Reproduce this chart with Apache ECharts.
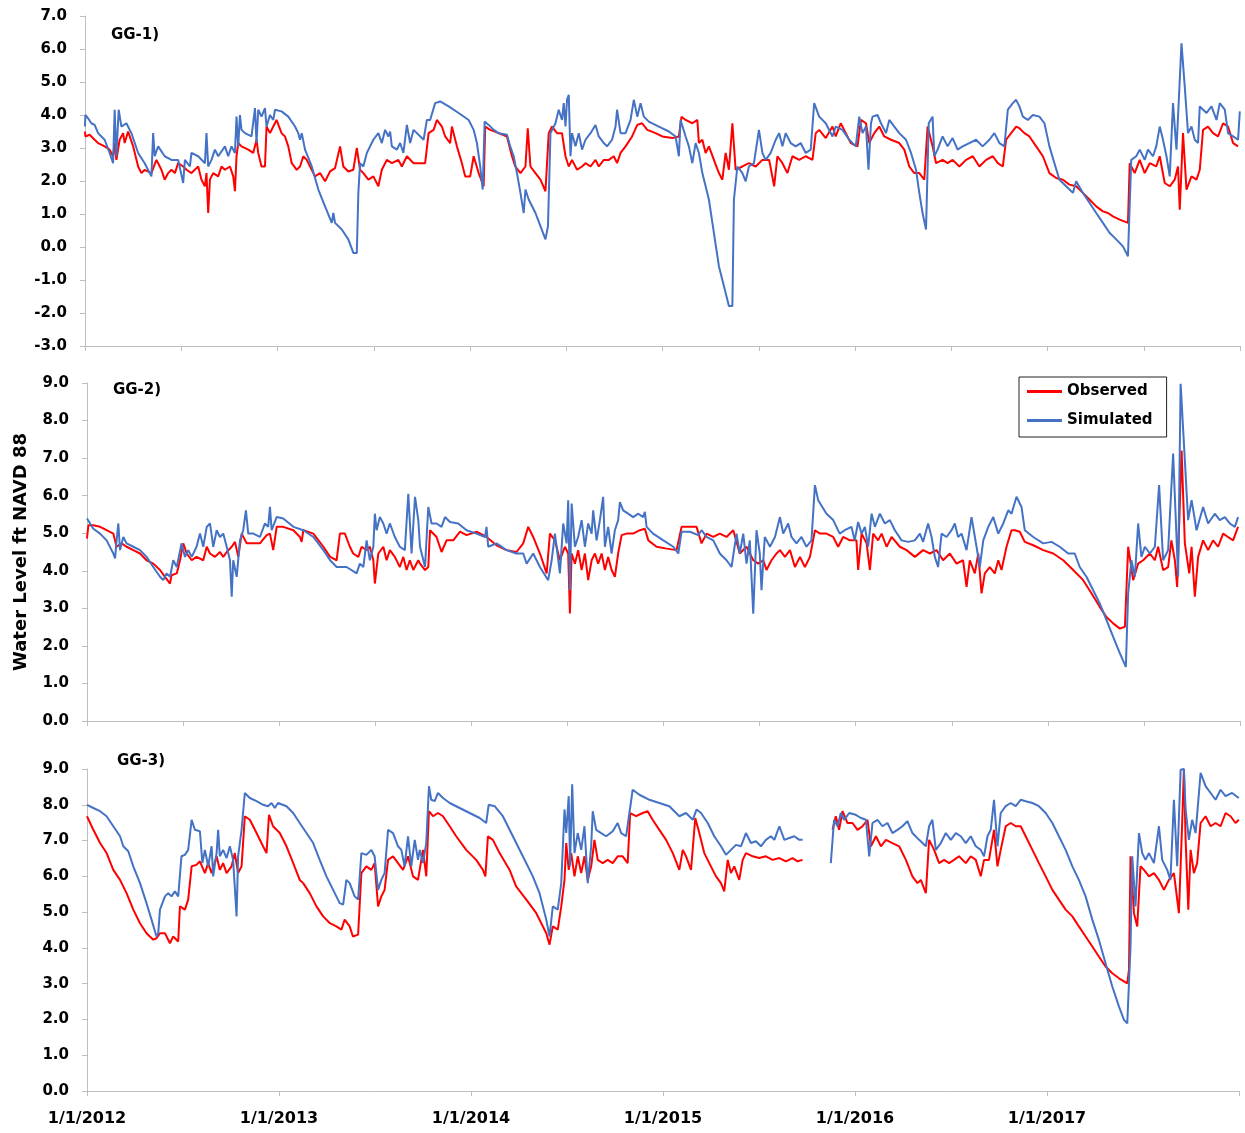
<!DOCTYPE html>
<html>
<head>
<meta charset="utf-8">
<script src="https://cdn.jsdelivr.net/npm/echarts@6/dist/echarts.min.js"></script>
<style>html,body{margin:0;padding:0;background:#fff}#c{width:1245px;height:1133px}</style>
</head>
<body>
<div id="c"></div>
<script>
// x values: years since 1/1/2012; y values: water level ft NAVD 88
const panelLabels = ['GG-1)', 'GG-2)', 'GG-3)'];
const yearTicks = [2012, 2013, 2014, 2015, 2016, 2017];

const gg1Observed = [[0,3.50],[.002,3.35],[.024,3.40],[.050,3.25],[.068,3.15],[.102,3.05],[.128,2.95],[.146,2.75],[.154,3.15],[.163,2.64],[.180,3.25],[.198,3.45],[.206,3.15],[.224,3.50],[.250,3.05],[.276,2.44],[.293,2.24],[.310,2.34],[.345,2.24],[.371,2.64],[.397,2.34],[.414,2.04],[.432,2.24],[.449,2.34],[.467,2.24],[.484,2.54],[.510,2.44],[.527,2.34],[.553,2.24],[.588,2.44],[.605,2.04],[.623,1.84],[.631,2.24],[.640,1.03],[.649,2.04],[.666,2.24],[.692,2.14],[.709,2.44],[.727,2.34],[.753,2.44],[.770,2.14],[.779,1.69],[.787,2.75],[.796,3.15],[.813,3.05],[.848,2.95],[.874,2.85],[.891,3.25],[.900,2.85],[.917,2.44],[.935,2.44],[.943,3.65],[.961,3.45],[.978,3.65],[.995,3.85],[1.021,3.45],[1.039,3.35],[1.056,3.05],[1.074,2.54],[1.100,2.34],[1.117,2.44],[1.134,2.75],[1.152,2.64],[1.169,2.44],[1.195,2.14],[1.221,2.24],[1.247,1.99],[1.273,2.29],[1.299,2.39],[1.325,3.05],[1.342,2.44],[1.368,2.29],[1.394,2.34],[1.412,3.0],[1.429,2.34],[1.446,2.24],[1.472,2.04],[1.498,2.14],[1.524,1.84],[1.542,2.34],[1.568,2.64],[1.594,2.54],[1.628,2.64],[1.646,2.44],[1.672,2.75],[1.707,2.54],[1.767,2.54],[1.785,3.45],[1.811,3.55],[1.828,3.85],[1.854,3.65],[1.871,3.35],[1.897,3.15],[1.906,3.65],[1.932,3.05],[1.958,2.54],[1.975,2.14],[2.001,2.14],[2.019,2.75],[2.045,2.24],[2.071,1.84],[2.079,3.65],[2.105,3.55],[2.149,3.45],[2.192,3.35],[2.218,2.75],[2.235,2.44],[2.262,2.24],[2.288,2.44],[2.300,3.60],[2.314,2.44],[2.340,2.24],[2.366,2.04],[2.392,1.69],[2.409,3.45],[2.426,3.65],[2.452,3.45],[2.478,3.45],[2.496,2.75],[2.513,2.44],[2.530,2.64],[2.556,2.34],[2.582,2.44],[2.600,2.54],[2.626,2.44],[2.652,2.64],[2.669,2.44],[2.695,2.64],[2.721,2.64],[2.747,2.75],[2.764,2.54],[2.782,2.85],[2.808,3.05],[2.842,3.35],[2.869,3.70],[2.894,3.75],[2.921,3.55],[2.964,3.45],[2.999,3.35],[3.051,3.30],[3.085,3.35],[3.099,3.95],[3.120,3.85],[3.155,3.75],[3.181,3.85],[3.189,3.15],[3.207,3.25],[3.224,2.85],[3.241,3.05],[3.267,2.64],[3.293,2.24],[3.311,2.04],[3.328,2.85],[3.345,2.34],[3.363,3.75],[3.380,2.34],[3.415,2.44],[3.449,2.54],[3.484,2.44],[3.519,2.64],[3.554,2.64],[3.580,1.84],[3.597,2.75],[3.623,2.54],[3.649,2.24],[3.675,2.75],[3.710,2.64],[3.744,2.75],[3.779,2.64],[3.796,3.45],[3.814,3.55],[3.848,3.30],[3.883,3.65],[3.900,3.35],[3.926,3.75],[3.952,3.45],[3.978,3.15],[4.013,3.05],[4.031,3.85],[4.057,3.75],[4.074,3.15],[4.100,3.45],[4.126,3.65],[4.152,3.35],[4.187,3.25],[4.230,3.15],[4.256,2.95],[4.282,2.44],[4.308,2.24],[4.334,2.24],[4.360,2.04],[4.377,3.65],[4.403,3.05],[4.421,2.54],[4.455,2.64],[4.481,2.54],[4.507,2.64],[4.542,2.44],[4.577,2.64],[4.612,2.75],[4.646,2.44],[4.681,2.64],[4.716,2.75],[4.742,2.54],[4.768,2.44],[4.785,3.25],[4.811,3.45],[4.837,3.65],[4.854,3.60],[4.880,3.45],[4.906,3.35],[4.941,3.05],[4.976,2.75],[5.010,2.24],[5.045,2.09],[5.080,2.04],[5.114,1.89],[5.149,1.84],[5.184,1.64],[5.218,1.44],[5.253,1.23],[5.288,1.08],[5.314,1.03],[5.340,0.93],[5.375,0.83],[5.418,0.73],[5.427,2.54],[5.453,2.24],[5.479,2.64],[5.505,2.24],[5.531,2.54],[5.565,2.44],[5.583,2.75],[5.609,1.94],[5.635,1.84],[5.661,2.04],[5.678,2.44],[5.687,1.13],[5.704,3.45],[5.722,1.74],[5.748,2.14],[5.774,2.04],[5.791,2.34],[5.808,3.55],[5.834,3.65],[5.860,3.45],[5.886,3.35],[5.912,3.75],[5.938,3.65],[5.964,3.15],[5.990,3.05]];

const gg1Simulated = [[0,3.65],[.002,4.0],[.016,3.90],[.033,3.75],[.050,3.70],[.068,3.45],[.102,3.25],[.128,2.85],[.146,2.54],[.154,4.16],[.163,2.75],[.175,4.16],[.189,3.65],[.215,3.75],[.241,3.45],[.276,2.85],[.310,2.54],[.345,2.14],[.354,3.45],[.362,2.75],[.380,3.05],[.414,2.75],[.449,2.64],[.484,2.64],[.510,1.94],[.519,2.64],[.545,2.44],[.553,2.85],[.588,2.75],[.623,2.54],[.631,3.45],[.640,2.44],[.657,2.64],[.675,2.95],[.692,2.75],[.727,3.05],[.744,2.75],[.761,3.05],[.779,2.85],[.787,3.95],[.796,3.05],[.805,4.0],[.813,3.55],[.831,3.45],[.865,3.35],[.883,4.21],[.891,3.15],[.900,4.16],[.917,3.95],[.935,4.21],[.943,3.65],[.961,4.0],[.978,3.85],[.987,4.16],[1.021,4.11],[1.056,3.95],[1.091,3.65],[1.108,3.45],[1.117,3.25],[1.126,3.45],[1.143,2.95],[1.178,2.44],[1.212,1.74],[1.247,1.23],[1.282,0.73],[1.290,1.03],[1.299,0.73],[1.334,0.53],[1.368,0.23],[1.394,-0.18],[1.412,-0.18],[1.420,1.64],[1.429,2.54],[1.446,2.44],[1.464,2.85],[1.481,3.05],[1.498,3.25],[1.524,3.45],[1.542,3.15],[1.559,3.55],[1.576,3.35],[1.585,3.50],[1.594,3.05],[1.620,2.95],[1.637,3.15],[1.654,2.85],[1.672,3.70],[1.689,3.15],[1.707,3.55],[1.759,3.25],[1.776,3.85],[1.793,3.85],[1.819,4.36],[1.845,4.41],[1.889,4.26],[1.941,4.06],[1.993,3.85],[2.019,3.55],[2.036,3.15],[2.053,2.44],[2.066,1.74],[2.076,3.80],[2.097,3.70],[2.123,3.55],[2.149,3.45],[2.192,3.40],[2.209,3.05],[2.227,2.75],[2.244,2.24],[2.262,1.64],[2.279,1.03],[2.288,1.74],[2.305,1.44],[2.340,1.03],[2.366,0.63],[2.392,0.23],[2.405,0.63],[2.418,3.45],[2.444,3.75],[2.461,4.16],[2.478,3.85],[2.487,4.36],[2.496,3.65],[2.504,4.46],[2.513,4.61],[2.522,2.75],[2.530,3.45],[2.548,3.05],[2.565,3.45],[2.582,2.95],[2.600,3.25],[2.626,3.45],[2.652,3.70],[2.669,3.35],[2.695,3.15],[2.712,3.05],[2.738,3.25],[2.756,3.65],[2.764,4.16],[2.782,3.45],[2.808,3.45],[2.834,3.85],[2.851,4.46],[2.869,3.95],[2.886,4.36],[2.903,3.95],[2.929,3.80],[2.981,3.65],[3.033,3.50],[3.068,3.35],[3.085,2.75],[3.094,3.85],[3.120,3.35],[3.137,3.05],[3.155,2.54],[3.172,3.15],[3.189,2.85],[3.207,2.24],[3.224,1.84],[3.241,1.44],[3.267,0.43],[3.293,-0.58],[3.319,-1.18],[3.345,-1.79],[3.363,-1.79],[3.371,1.44],[3.389,2.44],[3.415,2.24],[3.432,1.99],[3.449,2.44],[3.475,2.54],[3.501,3.55],[3.519,2.85],[3.536,2.64],[3.562,2.85],[3.588,3.25],[3.606,3.45],[3.623,3.05],[3.640,3.45],[3.666,3.15],[3.692,3.05],[3.718,3.15],[3.744,2.85],[3.770,2.95],[3.788,4.36],[3.814,3.95],[3.848,3.75],[3.883,3.35],[3.900,3.65],[3.935,3.55],[3.970,3.25],[4.004,3.05],[4.022,3.95],[4.039,3.45],[4.057,3.65],[4.070,2.34],[4.083,3.75],[4.091,3.95],[4.117,4.0],[4.135,3.75],[4.161,3.45],[4.178,3.85],[4.204,3.65],[4.230,3.45],[4.265,3.25],[4.291,2.85],[4.317,2.34],[4.334,1.64],[4.351,1.03],[4.369,0.53],[4.377,0.53],[4.383,3.75],[4.403,3.95],[4.412,2.75],[4.429,2.95],[4.455,3.35],[4.481,3.05],[4.507,3.30],[4.533,2.95],[4.559,3.05],[4.594,3.15],[4.629,3.25],[4.663,3.05],[4.698,3.25],[4.724,3.45],[4.750,3.15],[4.776,3.05],[4.794,4.16],[4.820,4.36],[4.837,4.46],[4.854,4.26],[4.872,3.95],[4.898,3.85],[4.924,4.0],[4.958,3.95],[4.984,3.75],[5.010,3.05],[5.036,2.54],[5.062,2.04],[5.097,1.84],[5.132,1.64],[5.149,1.99],[5.184,1.64],[5.218,1.34],[5.253,1.03],[5.288,0.73],[5.322,0.43],[5.357,0.23],[5.392,0.02],[5.418,-0.28],[5.427,-0.28],[5.435,2.64],[5.461,2.75],[5.479,2.95],[5.505,2.64],[5.522,2.95],[5.548,2.75],[5.565,3.05],[5.583,3.65],[5.600,3.25],[5.618,2.75],[5.635,2.14],[5.652,4.36],[5.670,2.95],[5.696,6.17],[5.713,4.86],[5.730,3.45],[5.748,3.65],[5.765,3.25],[5.782,3.15],[5.791,4.26],[5.826,4.06],[5.852,4.26],[5.878,3.85],[5.895,4.36],[5.921,4.16],[5.938,3.45],[5.964,3.35],[5.990,3.25],[5.999,4.11]];

const gg2Observed = [[0,4.86],[.007,5.21],[.033,5.21],[.068,5.17],[.102,5.08],[.137,4.99],[.154,4.64],[.180,4.73],[.206,4.64],[.241,4.55],[.276,4.46],[.310,4.28],[.345,4.19],[.380,4.02],[.406,3.84],[.432,3.66],[.440,3.88],[.467,3.93],[.484,4.28],[.501,4.73],[.519,4.46],[.545,4.28],[.570,4.37],[.605,4.28],[.623,4.64],[.640,4.46],[.666,4.37],[.692,4.50],[.709,4.37],[.727,4.50],[.753,4.64],[.770,4.77],[.787,4.37],[.805,4.99],[.831,4.73],[.865,4.73],[.900,4.73],[.935,4.95],[.952,4.99],[.969,4.55],[.987,5.17],[1.021,5.17],[1.074,5.08],[1.108,4.90],[1.117,4.77],[1.126,5.08],[1.178,4.99],[1.230,4.64],[1.265,4.37],[1.299,4.28],[1.316,4.99],[1.342,4.99],[1.368,4.64],[1.385,4.46],[1.412,4.37],[1.429,4.64],[1.455,4.55],[1.472,4.64],[1.490,4.28],[1.498,3.66],[1.516,4.46],[1.542,4.64],[1.559,4.28],[1.576,4.55],[1.602,4.37],[1.628,4.10],[1.646,4.37],[1.663,4.02],[1.680,4.28],[1.698,4.02],[1.724,4.28],[1.733,4.19],[1.759,4.02],[1.776,4.10],[1.785,5.08],[1.819,4.90],[1.845,4.50],[1.871,4.81],[1.906,4.81],[1.941,5.04],[1.975,4.95],[2.027,5.04],[2.079,4.90],[2.131,4.68],[2.183,4.55],[2.235,4.50],[2.270,4.73],[2.296,5.17],[2.322,4.90],[2.357,4.46],[2.392,3.93],[2.409,4.99],[2.435,4.81],[2.461,4.28],[2.487,4.64],[2.504,4.46],[2.513,2.86],[2.522,4.46],[2.539,4.19],[2.556,4.55],[2.574,4.02],[2.591,4.46],[2.608,3.75],[2.626,4.28],[2.643,4.46],[2.660,4.19],[2.678,4.46],[2.695,4.02],[2.712,4.37],[2.730,4.02],[2.747,3.84],[2.764,4.46],[2.782,4.95],[2.808,4.99],[2.842,4.99],[2.877,5.08],[2.903,5.12],[2.921,4.81],[2.964,4.64],[3.016,4.59],[3.068,4.55],[3.094,5.17],[3.137,5.17],[3.172,5.17],[3.198,4.73],[3.224,4.99],[3.259,4.90],[3.293,4.99],[3.328,4.90],[3.363,5.08],[3.397,4.46],[3.432,4.64],[3.467,4.28],[3.493,4.19],[3.519,4.28],[3.536,4.02],[3.562,4.28],[3.588,4.46],[3.606,4.55],[3.632,4.37],[3.658,4.55],[3.684,4.10],[3.710,4.37],[3.736,4.10],[3.762,4.37],[3.788,5.08],[3.814,4.99],[3.848,4.99],[3.883,4.90],[3.909,4.64],[3.935,4.90],[3.970,4.81],[4.004,4.81],[4.013,4.02],[4.031,4.99],[4.057,4.73],[4.074,4.02],[4.091,4.99],[4.117,4.81],[4.135,4.99],[4.161,4.64],[4.187,4.90],[4.230,4.64],[4.265,4.55],[4.308,4.37],[4.351,4.55],[4.386,4.46],[4.421,4.55],[4.455,4.28],[4.490,4.46],[4.525,4.19],[4.559,4.28],[4.577,3.57],[4.594,4.28],[4.620,3.93],[4.638,4.46],[4.655,3.40],[4.672,3.93],[4.698,4.10],[4.724,3.93],[4.742,4.28],[4.759,4.02],[4.785,4.64],[4.811,5.08],[4.828,5.08],[4.854,5.04],[4.880,4.77],[4.924,4.68],[4.976,4.55],[5.028,4.46],[5.080,4.28],[5.132,4.02],[5.184,3.75],[5.227,3.40],[5.270,3.04],[5.305,2.77],[5.340,2.60],[5.375,2.46],[5.401,2.51],[5.418,4.64],[5.444,3.75],[5.470,4.19],[5.496,4.28],[5.531,4.46],[5.557,4.28],[5.574,4.64],[5.600,4.02],[5.626,4.10],[5.643,4.81],[5.661,4.28],[5.673,3.57],[5.696,7.2],[5.713,4.73],[5.736,3.93],[5.748,4.64],[5.765,3.31],[5.782,4.37],[5.808,4.81],[5.834,4.55],[5.860,4.81],[5.886,4.64],[5.912,4.99],[5.938,4.90],[5.964,4.81],[5.990,5.17]];

const gg2Simulated = [[0,5.39],[.007,5.35],[.033,5.12],[.068,4.99],[.102,4.81],[.137,4.46],[.146,4.33],[.154,4.81],[.163,5.26],[.172,4.55],[.189,4.90],[.206,4.73],[.241,4.64],[.276,4.55],[.310,4.37],[.345,4.10],[.380,3.84],[.397,3.75],[.414,3.93],[.432,3.84],[.449,4.28],[.467,4.10],[.492,4.73],[.510,4.37],[.527,4.55],[.545,4.37],[.570,4.64],[.588,4.99],[.605,4.64],[.623,5.17],[.640,5.26],[.657,4.64],[.675,5.08],[.692,4.90],[.709,4.99],[.727,4.64],[.744,4.28],[.753,3.31],[.761,4.28],[.779,3.84],[.796,4.81],[.813,5.08],[.827,5.61],[.839,4.99],[.865,4.99],[.900,4.90],[.926,5.26],[.943,5.17],[.952,5.70],[.961,5.08],[.987,5.43],[1.021,5.39],[1.074,5.17],[1.126,5.08],[1.178,4.90],[1.230,4.55],[1.265,4.28],[1.299,4.10],[1.351,4.10],[1.403,3.93],[1.420,4.19],[1.438,4.10],[1.455,4.81],[1.472,4.28],[1.490,4.64],[1.498,5.52],[1.507,5.08],[1.524,5.43],[1.542,5.26],[1.559,4.99],[1.576,5.26],[1.602,4.90],[1.628,4.64],[1.654,4.55],[1.672,6.05],[1.689,4.46],[1.707,5.97],[1.724,5.35],[1.733,4.64],[1.759,4.10],[1.776,5.70],[1.793,5.26],[1.819,5.26],[1.845,5.17],[1.863,5.43],[1.889,5.30],[1.932,5.26],[1.975,5.08],[2.027,4.99],[2.071,4.90],[2.079,5.17],[2.088,4.64],[2.131,4.73],[2.183,4.55],[2.235,4.46],[2.270,4.46],[2.288,4.19],[2.322,4.46],[2.357,4.10],[2.400,3.75],[2.418,4.28],[2.435,4.99],[2.461,3.93],[2.478,5.26],[2.496,4.73],[2.504,5.88],[2.513,3.48],[2.522,5.79],[2.539,4.64],[2.556,4.90],[2.574,5.35],[2.591,4.64],[2.608,5.26],[2.626,4.99],[2.634,5.61],[2.652,4.81],[2.669,5.35],[2.686,5.97],[2.695,4.64],[2.712,5.17],[2.730,4.46],[2.747,5.08],[2.764,5.35],[2.773,5.83],[2.790,5.61],[2.816,5.52],[2.842,5.43],[2.869,5.52],[2.894,5.43],[2.903,5.57],[2.912,5.17],[2.946,4.99],[2.999,4.81],[3.051,4.64],[3.077,4.46],[3.094,5.04],[3.137,5.04],[3.181,4.95],[3.198,5.08],[3.224,4.90],[3.259,4.81],[3.293,4.46],[3.328,4.28],[3.354,4.10],[3.380,4.99],[3.397,4.46],[3.415,4.99],[3.432,4.19],[3.449,4.81],[3.467,2.86],[3.484,5.08],[3.501,4.46],[3.510,3.48],[3.527,4.90],[3.554,4.64],[3.580,4.90],[3.606,5.43],[3.623,4.99],[3.649,5.26],[3.666,4.90],[3.692,4.73],[3.718,4.90],[3.744,4.64],[3.770,4.81],[3.788,6.28],[3.805,5.88],[3.848,5.52],[3.883,5.35],[3.917,4.99],[3.943,5.08],[3.978,5.17],[3.995,4.81],[4.013,5.30],[4.031,4.99],[4.048,5.17],[4.065,4.64],[4.083,5.52],[4.100,5.17],[4.126,5.52],[4.152,5.26],[4.178,5.35],[4.204,5.08],[4.239,4.81],[4.273,4.77],[4.308,4.81],[4.334,4.99],[4.351,4.77],[4.377,5.26],[4.395,4.90],[4.412,4.37],[4.429,4.10],[4.447,4.99],[4.473,4.90],[4.499,5.08],[4.516,5.26],[4.533,4.90],[4.551,4.99],[4.577,4.55],[4.603,5.43],[4.629,4.64],[4.646,4.10],[4.664,4.81],[4.690,5.17],[4.716,5.43],[4.742,4.99],[4.768,5.26],[4.794,5.61],[4.811,5.52],[4.837,5.97],[4.863,5.70],[4.880,5.08],[4.924,4.90],[4.976,4.73],[5.019,4.77],[5.062,4.64],[5.106,4.46],[5.140,4.46],[5.166,4.10],[5.201,3.84],[5.236,3.48],[5.270,3.13],[5.305,2.69],[5.340,2.24],[5.375,1.80],[5.406,1.44],[5.418,3.40],[5.435,4.28],[5.453,3.84],[5.470,5.26],[5.487,4.37],[5.505,4.64],[5.531,4.46],[5.557,4.64],[5.579,6.28],[5.600,4.28],[5.626,4.55],[5.652,7.12],[5.678,3.84],[5.691,8.98],[5.713,6.94],[5.730,5.35],[5.748,5.88],[5.774,5.08],[5.808,5.70],[5.834,5.26],[5.869,5.52],[5.895,5.35],[5.921,5.43],[5.947,5.26],[5.973,5.17],[5.990,5.43]];

// GG-3 has a data gap in autumn 2015: two segments per series
const gg3ObservedA = [[0,7.68],[.033,7.30],[.068,6.93],[.102,6.65],[.137,6.18],[.172,5.90],[.206,5.53],[.241,5.07],[.276,4.69],[.310,4.41],[.345,4.23],[.362,4.27],[.380,4.41],[.406,4.41],[.432,4.13],[.449,4.32],[.475,4.18],[.484,5.16],[.510,5.07],[.527,5.35],[.545,6.28],[.570,6.32],[.588,6.42],[.614,6.09],[.631,6.37],[.649,6.09],[.675,6.56],[.692,6.18],[.709,6.37],[.727,6.09],[.753,6.28],[.770,6.65],[.787,6.09],[.805,6.28],[.822,7.68],[.848,7.58],[.883,7.21],[.917,6.84],[.935,6.65],[.948,7.72],[.969,7.40],[1.004,7.21],[1.039,6.84],[1.074,6.37],[1.108,5.90],[1.126,5.81],[1.160,5.53],[1.195,5.16],[1.230,4.88],[1.265,4.69],[1.299,4.60],[1.325,4.51],[1.342,4.79],[1.368,4.60],[1.385,4.32],[1.412,4.37],[1.429,6.09],[1.455,6.28],[1.481,6.18],[1.498,6.37],[1.516,5.16],[1.533,5.44],[1.550,5.62],[1.568,6.46],[1.594,6.56],[1.620,6.37],[1.646,6.18],[1.672,6.56],[1.698,6.00],[1.724,5.90],[1.733,5.90],[1.750,6.74],[1.767,6.00],[1.781,7.82],[1.802,7.68],[1.828,7.77],[1.854,7.68],[1.889,7.40],[1.923,7.12],[1.975,6.74],[2.027,6.46],[2.062,6.18],[2.075,6.00],[2.088,7.12],[2.114,7.02],[2.149,6.65],[2.201,6.18],[2.235,5.72],[2.288,5.35],[2.340,4.97],[2.392,4.41],[2.409,4.09],[2.426,4.60],[2.452,4.51],[2.470,5.16],[2.487,5.90],[2.496,6.93],[2.509,6.18],[2.522,6.65],[2.539,6.00],[2.556,6.56],[2.574,6.09],[2.591,6.56],[2.608,5.90],[2.626,6.28],[2.643,7.02],[2.660,6.46],[2.686,6.37],[2.712,6.46],[2.738,6.37],[2.764,6.56],[2.790,6.56],[2.816,6.37],[2.829,7.77],[2.860,7.68],[2.894,7.77],[2.920,7.82],[2.946,7.58],[2.981,7.30],[3.016,7.02],[3.051,6.65],[3.085,6.18],[3.103,6.74],[3.120,6.56],[3.146,6.18],[3.168,7.63],[3.189,7.21],[3.215,6.65],[3.241,6.37],[3.276,6.00],[3.302,5.81],[3.319,5.58],[3.337,6.46],[3.354,6.09],[3.371,6.28],[3.397,5.90],[3.415,6.46],[3.432,6.65],[3.467,6.56],[3.501,6.51],[3.536,6.56],[3.571,6.46],[3.606,6.51],[3.640,6.42],[3.675,6.51],[3.701,6.42],[3.727,6.46]];
const gg3ObservedB = [[3.883,7.30],[3.900,7.68],[3.917,7.30],[3.935,7.82],[3.961,7.49],[3.987,7.49],[4.013,7.30],[4.039,7.40],[4.065,7.58],[4.083,6.84],[4.109,7.12],[4.135,6.84],[4.161,7.02],[4.195,6.93],[4.230,6.84],[4.265,6.46],[4.299,6.00],[4.325,5.81],[4.343,5.90],[4.369,5.53],[4.386,7.02],[4.412,6.74],[4.438,6.37],[4.464,6.46],[4.490,6.37],[4.516,6.46],[4.542,6.56],[4.577,6.37],[4.603,6.56],[4.629,6.46],[4.655,6.00],[4.672,6.46],[4.698,6.46],[4.724,7.30],[4.742,6.28],[4.759,6.74],[4.785,7.40],[4.811,7.49],[4.837,7.40],[4.863,7.40],[4.889,7.12],[4.924,6.74],[4.958,6.37],[4.993,6.00],[5.028,5.62],[5.062,5.35],[5.097,5.07],[5.132,4.88],[5.149,4.74],[5.166,4.60],[5.201,4.32],[5.236,4.04],[5.270,3.76],[5.305,3.48],[5.340,3.29],[5.375,3.15],[5.418,3.01],[5.427,3.39],[5.435,6.56],[5.453,4.97],[5.470,4.60],[5.487,6.28],[5.505,6.18],[5.531,6.00],[5.557,6.09],[5.583,5.90],[5.609,5.62],[5.635,5.90],[5.661,6.09],[5.687,4.97],[5.704,7.49],[5.713,9.0],[5.722,7.02],[5.736,5.07],[5.748,6.74],[5.765,6.09],[5.782,6.37],[5.800,7.49],[5.826,7.68],[5.852,7.40],[5.878,7.49],[5.904,7.40],[5.930,7.77],[5.956,7.68],[5.982,7.49],[5.999,7.58]];

const gg3SimulatedA = [[0,8.00],[.033,7.91],[.068,7.82],[.102,7.68],[.137,7.40],[.172,7.12],[.189,6.84],[.215,6.70],[.241,6.28],[.276,5.81],[.310,5.25],[.336,4.79],[.362,4.32],[.371,4.41],[.380,5.07],[.406,5.44],[.423,5.53],[.440,5.44],[.458,5.58],[.475,5.44],[.492,6.56],[.510,6.60],[.527,6.74],[.545,7.58],[.562,7.30],[.588,7.26],[.601,6.37],[.614,6.74],[.631,6.28],[.649,6.84],[.657,6.00],[.675,6.65],[.683,7.30],[.692,6.56],[.709,6.74],[.727,6.51],[.744,6.84],[.761,6.46],[.779,4.88],[.787,6.56],[.805,7.30],[.822,8.33],[.848,8.19],[.883,8.10],[.917,8.00],[.943,7.96],[.961,8.05],[.978,7.91],[.995,8.05],[1.039,7.96],[1.074,7.77],[1.108,7.49],[1.143,7.21],[1.178,6.93],[1.212,6.46],[1.247,6.00],[1.282,5.62],[1.316,5.25],[1.334,5.21],[1.351,5.90],[1.368,5.81],[1.394,5.44],[1.412,5.35],[1.429,6.65],[1.455,6.60],[1.481,6.74],[1.498,6.56],[1.516,5.62],[1.533,5.90],[1.550,6.09],[1.568,7.30],[1.594,7.21],[1.620,6.84],[1.637,6.74],[1.654,6.28],[1.672,7.12],[1.689,6.28],[1.707,7.02],[1.724,6.46],[1.733,6.74],[1.750,6.37],[1.767,6.93],[1.781,8.52],[1.793,8.14],[1.811,8.10],[1.828,8.33],[1.854,8.19],[1.889,8.05],[1.941,7.91],[1.993,7.77],[2.045,7.63],[2.079,7.49],[2.092,8.00],[2.123,7.96],[2.166,7.68],[2.218,7.12],[2.270,6.56],[2.322,6.00],[2.357,5.53],[2.392,4.79],[2.409,4.32],[2.426,5.16],[2.452,5.07],[2.470,5.81],[2.487,7.87],[2.496,7.21],[2.509,8.24],[2.516,6.28],[2.527,8.57],[2.539,6.65],[2.556,7.21],[2.574,6.74],[2.591,7.40],[2.608,5.81],[2.626,6.84],[2.634,7.82],[2.652,7.30],[2.678,7.21],[2.704,7.12],[2.738,7.26],[2.764,7.49],[2.782,7.21],[2.808,7.12],[2.825,7.77],[2.842,8.42],[2.877,8.28],[2.929,8.14],[2.981,8.05],[3.033,7.96],[3.085,7.68],[3.120,7.77],[3.155,7.58],[3.175,7.87],[3.198,7.77],[3.233,7.49],[3.267,7.12],[3.302,6.84],[3.328,6.60],[3.354,6.74],[3.380,6.88],[3.406,6.84],[3.432,7.21],[3.458,6.93],[3.484,6.98],[3.510,6.84],[3.536,7.02],[3.562,7.12],[3.580,7.02],[3.606,7.40],[3.632,7.02],[3.658,7.07],[3.684,7.12],[3.710,7.02],[3.727,7.02]];
const gg3SimulatedB = [[3.874,6.37],[3.891,7.58],[3.909,7.40],[3.926,7.77],[3.943,7.58],[3.970,7.77],[4.004,7.72],[4.031,7.63],[4.057,7.58],[4.074,6.56],[4.091,7.49],[4.117,7.58],[4.143,7.40],[4.169,7.49],[4.195,7.21],[4.221,7.30],[4.247,7.40],[4.273,7.54],[4.299,7.21],[4.334,7.02],[4.369,6.84],[4.386,7.40],[4.403,7.58],[4.421,6.74],[4.447,6.93],[4.473,7.21],[4.499,7.02],[4.525,7.21],[4.551,7.12],[4.577,6.93],[4.603,7.12],[4.629,6.84],[4.655,6.74],[4.672,6.56],[4.690,7.12],[4.707,7.30],[4.724,8.14],[4.742,6.84],[4.759,7.77],[4.785,7.96],[4.811,8.05],[4.837,7.96],[4.863,8.14],[4.889,8.10],[4.924,8.05],[4.958,7.96],[4.993,7.77],[5.028,7.49],[5.062,7.12],[5.097,6.74],[5.132,6.28],[5.166,5.90],[5.201,5.44],[5.236,4.79],[5.270,4.23],[5.305,3.57],[5.340,2.92],[5.375,2.36],[5.401,1.99],[5.418,1.89],[5.435,4.04],[5.444,6.56],[5.461,5.16],[5.479,7.21],[5.496,6.65],[5.513,6.46],[5.531,6.65],[5.557,6.37],[5.583,7.40],[5.600,6.46],[5.626,6.18],[5.643,5.90],[5.661,8.14],[5.678,6.28],[5.696,8.98],[5.713,9.0],[5.722,7.87],[5.739,7.02],[5.756,7.58],[5.774,7.21],[5.800,8.89],[5.826,8.52],[5.852,8.33],[5.878,8.14],[5.904,8.42],[5.930,8.24],[5.964,8.33],[5.999,8.19]];

const OBS_COLOR = '#ff0000';
const SIM_COLOR = '#4472c4';
const FONT = '"DejaVu Sans", Verdana, sans-serif';

const chart = echarts.init(document.getElementById('c'), null, {renderer: 'canvas'});

const grids = [
  {left: 85, top: 16, width: 1155, height: 330},
  {left: 87, top: 383, width: 1153, height: 338},
  {left: 87, top: 769, width: 1152, height: 322}
];
const yRanges = [[-3, 7], [0, 9], [0, 9]];

const axisGray = '#bfbfbf';
const xAxes = grids.map((g, i) => ({
  type: 'value', gridIndex: i, min: 0, max: 6, interval: i < 2 ? 0.5 : 1,
  axisLine: {show: true, onZero: false, lineStyle: {color: axisGray, width: 1}},
  axisTick: {show: true, length: 5, inside: false, lineStyle: {color: axisGray}},
  splitLine: {show: false},
  axisLabel: {
    show: i === 2, margin: 20, color: '#000', fontWeight: 'bold', fontSize: 16, fontFamily: FONT,
    formatter: v => (v < 6 ? '1/1/' + yearTicks[Math.round(v)] : '')
  }
}));
const yAxes = grids.map((g, i) => ({
  type: 'value', gridIndex: i, min: yRanges[i][0], max: yRanges[i][1], interval: 1,
  axisLine: {show: true, lineStyle: {color: axisGray, width: 1}},
  axisTick: {show: true, length: 5, lineStyle: {color: axisGray}},
  splitLine: {show: false},
  axisLabel: {margin: 18, color: '#000', fontWeight: 'bold', fontSize: 15, fontFamily: FONT,
    formatter: v => v.toFixed(1)},
  name: i === 1 ? 'Water Level ft NAVD 88' : '',
  nameLocation: 'middle', nameGap: 57,
  nameTextStyle: {color: '#000', fontWeight: 'bold', fontSize: 18, fontFamily: FONT}
}));

function line(name, data, idx, color) {
  return {
    type: 'line', name: name, data: data, xAxisIndex: idx, yAxisIndex: idx,
    showSymbol: false, symbol: 'none', color: color,
    lineStyle: {color: color, width: 2}, animation: false
  };
}

const series = [
  line('Observed', gg1Observed, 0, OBS_COLOR),
  line('Simulated', gg1Simulated, 0, SIM_COLOR),
  line('Observed', gg2Observed, 1, OBS_COLOR),
  line('Simulated', gg2Simulated, 1, SIM_COLOR),
  line('Observed', gg3ObservedA, 2, OBS_COLOR),
  line('Observed', gg3ObservedB, 2, OBS_COLOR),
  line('Simulated', gg3SimulatedA, 2, SIM_COLOR),
  line('Simulated', gg3SimulatedB, 2, SIM_COLOR)
];

const labelPos = [[111, 28], [113, 383], [117, 754]];

chart.setOption({
  backgroundColor: '#fff',
  animation: false,
  grid: grids,
  xAxis: xAxes,
  yAxis: yAxes,
  legend: {
    data: ['Observed', 'Simulated'], orient: 'vertical', left: 1019, top: 377,
    backgroundColor: '#fff', borderColor: '#222', borderWidth: 1, borderRadius: 0,
    padding: [7, 14, 9, 8], itemGap: 14, itemWidth: 35, itemHeight: 3, icon: 'rect',
    selectedMode: false,
    textStyle: {color: '#000', fontWeight: 'bold', fontSize: 15, fontFamily: FONT}
  },
  graphic: panelLabels.map((t, i) => ({
    type: 'text', left: labelPos[i][0], top: labelPos[i][1],
    style: {text: t, fill: '#000', font: 'bold 15px ' + FONT}
  })),
  series: series
});
</script>
</body>
</html>
